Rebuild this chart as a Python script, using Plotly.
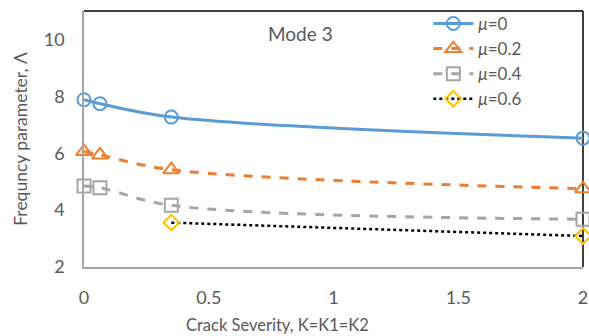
import plotly.graph_objects as go

x_main = [0, 0.064, 0.35, 2]
x_06 = [0.35, 2]
mu0 = [7.88, 7.74, 7.27, 6.53]
mu02 = [6.06, 5.94, 5.42, 4.75]
mu04 = [4.85, 4.79, 4.17, 3.68]
mu06 = [3.56, 3.09]
names = ["<i>μ</i>=0", "<i>μ</i>=0.2", "<i>μ</i>=0.4", "<i>μ</i>=0.6"]
x_ticks = [0, 0.5, 1, 1.5, 2]
x_ticklabels = ["0", "0.5", "1", "1.5", "2"]
y_ticks = [2, 4, 6, 8, 10]

FONT = "Lato"
TXT = "#595959"

fig = go.Figure()
fig.add_trace(go.Scatter(x=x_main, y=mu0, name=names[0], mode="lines+markers", cliponaxis=False,
                         line=dict(color="#5B9BD5", width=3, shape="spline"),
                         marker=dict(symbol="circle-open", size=13, color="#5B9BD5", line=dict(width=2))))
fig.add_trace(go.Scatter(x=x_main, y=mu02, name=names[1], mode="lines+markers", cliponaxis=False,
                         line=dict(color="#ED7D31", width=3, dash="dash", shape="spline"),
                         marker=dict(symbol="triangle-up-open", size=14, color="#ED7D31", line=dict(width=2))))
fig.add_trace(go.Scatter(x=x_main, y=mu04, name=names[2], mode="lines+markers", cliponaxis=False,
                         line=dict(color="#A5A5A5", width=3, dash="dash", shape="spline"),
                         marker=dict(symbol="square-open", size=13, color="#A5A5A5", line=dict(width=2))))
fig.add_trace(go.Scatter(x=x_06, y=mu06, name=names[3], mode="lines+markers", cliponaxis=False,
                         line=dict(color="black", width=2.5, dash="dot"),
                         marker=dict(symbol="diamond-open", size=12, color="#FFC000", line=dict(width=2))))

# black frame top and right
fig.add_shape(type="line", xref="paper", yref="paper", x0=0, x1=1, y0=1, y1=1,
              line=dict(color="black", width=1.5), layer="below")
fig.add_shape(type="line", xref="paper", yref="paper", x0=1, x1=1, y0=0, y1=1,
              line=dict(color="black", width=1.5), layer="below")

fig.add_annotation(text="Mode 3", xref="paper", yref="paper", x=0.433, y=0.914,
                   xanchor="center", yanchor="middle",
                   showarrow=False, font=dict(family=FONT, size=19, color=TXT))
fig.add_annotation(text="Crack Severity, K=K1=K2", xref="paper", yref="paper", x=0.387, y=0,
                   yshift=-58, xanchor="center", yanchor="middle", showarrow=False,
                   font=dict(family=FONT, size=16.5, color=TXT))

fig.update_layout(
    width=589, height=336,
    margin=dict(l=84, r=6, t=11, b=69, autoexpand=False),
    paper_bgcolor="white", plot_bgcolor="white",
    font=dict(family=FONT, color=TXT),
    showlegend=True,
    legend=dict(x=0.69, y=1.02, xanchor="left", yanchor="top",
                bgcolor="rgba(255,255,255,0)", font=dict(family=FONT, size=17, color=TXT),
                tracegroupgap=0, itemwidth=40),
    xaxis=dict(range=[0, 2], tickvals=x_ticks, ticktext=x_ticklabels, automargin=False,
               showgrid=False, zeroline=False, showline=True, linecolor="#A6A6A6", linewidth=1.5,
               ticks="", tickfont=dict(family=FONT, size=18, color=TXT), ticklabelstandoff=14),
    yaxis=dict(range=[2, 11], tickvals=y_ticks, automargin=False,
               showgrid=False, zeroline=False, showline=True, linecolor="#A6A6A6", linewidth=1.5,
               ticks="", tickfont=dict(family=FONT, size=18, color=TXT), ticklabelstandoff=14,
               title=dict(text="Frequncy parameter, Λ", font=dict(family=FONT, size=17.5, color=TXT), standoff=12)),
)

fig.write_html("out.html", config={"displayModeBar": False},
               post_script="document.body.style.margin='0';document.body.style.padding='0';")
